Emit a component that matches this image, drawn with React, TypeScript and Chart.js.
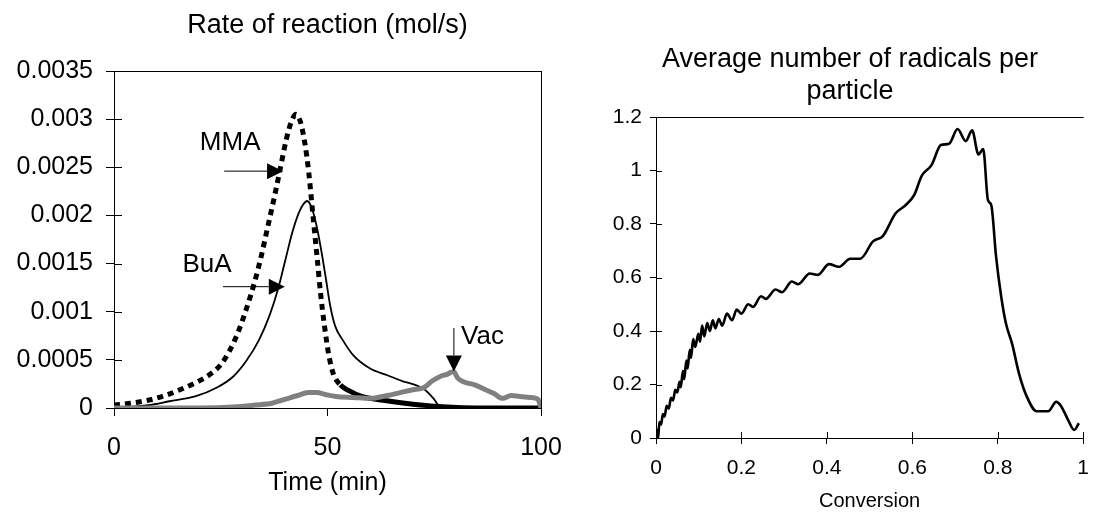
import React, { useEffect, useRef } from 'react';
import { Chart, registerables } from 'chart.js';

Chart.register(...registerables);

const FONT = '"Liberation Sans", Arial, Helvetica, sans-serif';
Chart.defaults.font.family = FONT;
Chart.defaults.color = '#000';

// ---------- Left chart: Rate of reaction (mol/s) vs Time (min) ----------
const mmaTime = [0, 4, 8, 12, 16, 19.5, 22.5, 25, 27, 29, 31, 33, 34.5, 36, 37.5, 39, 40.3, 41.5, 42.6, 43.6, 44.7, 45.6, 46.7, 47.6, 48.4, 49.3, 50.3, 51.4, 53, 55, 58, 63, 70, 78, 85, 100];
const mmaRate = [0.00003, 0.00005, 0.00008, 0.00013, 0.0002, 0.00027, 0.00035, 0.00045, 0.00059, 0.00078, 0.00103, 0.00132, 0.00158, 0.00188, 0.00218, 0.0025, 0.00278, 0.00297, 0.00305, 0.00298, 0.00275, 0.00245, 0.00195, 0.00155, 0.00118, 0.00085, 0.00055, 0.00035, 0.00024, 0.00018, 0.00012, 0.00008, 0.00004, 0.00001, 0, 0];

const buaTime = [0, 8, 13, 19, 24, 28, 31, 34, 36.5, 38.5, 40.2, 41.8, 43.3, 44.4, 45.2, 46.3, 47.5, 48.6, 49.6, 50.6, 51.8, 53.5, 56, 60, 64, 67.5, 70.5, 72.8, 74.8, 76.5, 85, 100];
const buaRate = [0, 0.00003, 0.00007, 0.00012, 0.00021, 0.00033, 0.00049, 0.00071, 0.00097, 0.00125, 0.00155, 0.00183, 0.00203, 0.00212, 0.00215, 0.00208, 0.00188, 0.00162, 0.00135, 0.00107, 0.00085, 0.00071, 0.00055, 0.00041, 0.00034, 0.00028, 0.00024, 0.00019, 0.0001, 0.00001, 0, 0];

const vacTime = [0, 10, 20, 28, 33, 37, 40, 43, 45.5, 47.5, 49.5, 52, 56, 60, 64, 67, 70, 72.5, 74.5, 76.5, 78, 79.5, 80.5, 82, 84.5, 87, 89, 91, 93, 95, 97.5, 99.3, 100];
const vacRate = [0, 0, 0, 0.00001, 0.00003, 0.00005, 0.00009, 0.00013, 0.00016, 0.00016, 0.00014, 0.00012, 0.00011, 0.0001, 0.00013, 0.00016, 0.00019, 0.00021, 0.00028, 0.00033, 0.00035, 0.00038, 0.00031, 0.00027, 0.00024, 0.00019, 0.00015, 0.0001, 0.00013, 0.00012, 0.00011, 0.00009, 0];

const timeTicks = [0, 50, 100];
const rateTicks = [0, 0.0005, 0.001, 0.0015, 0.002, 0.0025, 0.003, 0.0035];

// Arrow labels (in data units)
const noteLabels = ['MMA', 'BuA', 'Vac'];
const noteTextAt = [[27.2, 0.00275], [21.8, 0.00149], [86.3, 0.00074]];
const noteArrowFrom = [[25.8, 0.00246], [25.5, 0.00126], [79.6, 0.00083]];
const noteArrowTo = [[39.6, 0.00246], [40.0, 0.00126], [79.6, 0.00038]];

// ---------- Right chart: Average number of radicals per particle ----------
const conversion = [0, 0.003, 0.005, 0.008, 0.012, 0.016, 0.02, 0.025, 0.03, 0.035, 0.04, 0.045, 0.05, 0.055, 0.058, 0.063, 0.066, 0.071, 0.074, 0.079, 0.082, 0.087, 0.092, 0.099, 0.103, 0.108, 0.113, 0.12, 0.126, 0.133, 0.139, 0.147, 0.155, 0.166, 0.178, 0.189, 0.2, 0.216, 0.227, 0.246, 0.257, 0.28, 0.295, 0.318, 0.333, 0.36, 0.379, 0.405, 0.428, 0.455, 0.478, 0.508, 0.531, 0.561, 0.584, 0.605, 0.622, 0.645, 0.667, 0.686, 0.706, 0.725, 0.74, 0.755, 0.766, 0.777, 0.785, 0.796, 0.808, 0.819, 0.834, 0.85, 0.868, 0.891, 0.918, 0.937, 0.948, 0.964, 0.979, 0.99];
const radicals = [0, 0.03, 0, 0.06, 0.05, 0.09, 0.08, 0.12, 0.11, 0.15, 0.14, 0.18, 0.17, 0.21, 0.19, 0.25, 0.22, 0.29, 0.26, 0.33, 0.3, 0.37, 0.34, 0.39, 0.36, 0.42, 0.38, 0.43, 0.4, 0.44, 0.41, 0.445, 0.42, 0.465, 0.44, 0.48, 0.465, 0.5, 0.49, 0.53, 0.52, 0.555, 0.545, 0.585, 0.575, 0.615, 0.61, 0.65, 0.64, 0.67, 0.67, 0.735, 0.755, 0.84, 0.87, 0.91, 0.98, 1.02, 1.095, 1.1, 1.155, 1.11, 1.15, 1.06, 1.08, 0.89, 0.87, 0.68, 0.53, 0.43, 0.35, 0.24, 0.155, 0.1, 0.1, 0.135, 0.12, 0.07, 0.03, 0.055];

const conversionTicks = [0, 0.2, 0.4, 0.6, 0.8, 1];
const radicalTicks = [0, 0.2, 0.4, 0.6, 0.8, 1, 1.2];

const zip = (xs: number[], ys: number[]) => xs.map((x, i) => ({ x, y: ys[i] }));
const fmt = (d: number) => (v: any) => String(+Number(v).toFixed(d));

// Frame: extra border lines and inner tick halves
const framePlugin = {
  id: 'frame',
  beforeDatasetsDraw(chart: any, _a: any, opts: any) {
    const { ctx, chartArea: a, scales } = chart;
    const px = (v: number) => Math.round(v) + 0.5;
    ctx.save();
    ctx.strokeStyle = '#000';
    ctx.lineWidth = 1;
    ctx.beginPath();
    if (opts.top) { ctx.moveTo(a.left, px(a.top)); ctx.lineTo(a.right + 0.5, px(a.top)); }
    if (opts.right) { ctx.moveTo(px(a.right), a.top); ctx.lineTo(px(a.right), a.bottom); }
    if (opts.innerY) {
      for (const t of scales.y.ticks) {
        const y = px(scales.y.getPixelForValue(t.value));
        ctx.moveTo(a.left, y); ctx.lineTo(a.left + opts.innerY, y);
      }
    }
    if (opts.innerX) {
      for (const t of scales.x.ticks) {
        const x = px(scales.x.getPixelForValue(t.value));
        ctx.moveTo(x, a.bottom); ctx.lineTo(x, a.bottom - opts.innerX);
      }
    }
    ctx.stroke();
    ctx.restore();
  },
};

// Arrow annotations
const notesPlugin = {
  id: 'arrowNotes',
  afterDatasetsDraw(chart: any, _a: any, opts: any) {
    if (!opts || !opts.labels) return;
    const { ctx, scales } = chart;
    const X = (v: number) => scales.x.getPixelForValue(v);
    const Y = (v: number) => scales.y.getPixelForValue(v);
    ctx.save();
    ctx.strokeStyle = '#000';
    ctx.fillStyle = '#000';
    ctx.lineWidth = 1;
    ctx.font = `26px ${FONT}`;
    ctx.textAlign = 'center';
    ctx.textBaseline = 'middle';
    opts.labels.forEach((label: string, i: number) => {
      const x0 = X(opts.from[i][0]), y0 = Y(opts.from[i][1]);
      const x1 = X(opts.to[i][0]), y1 = Y(opts.to[i][1]);
      const ang = Math.atan2(y1 - y0, x1 - x0);
      const head = 16, half = 8;
      const bx = x1 - head * Math.cos(ang), by = y1 - head * Math.sin(ang);
      ctx.beginPath();
      ctx.moveTo(x0, y0);
      ctx.lineTo(bx, by);
      ctx.stroke();
      ctx.beginPath();
      ctx.moveTo(x1, y1);
      ctx.lineTo(bx + half * Math.sin(ang), by - half * Math.cos(ang));
      ctx.lineTo(bx - half * Math.sin(ang), by + half * Math.cos(ang));
      ctx.closePath();
      ctx.fill();
      ctx.fillText(label, X(opts.text[i][0]), Y(opts.text[i][1]));
    });
    ctx.restore();
  },
};

const line = (extra: any) => ({
  pointRadius: 0,
  pointHoverRadius: 0,
  fill: false,
  cubicInterpolationMode: 'monotone',
  borderCapStyle: 'butt',
  ...extra,
});

export default function App() {
  const leftRef = useRef<HTMLCanvasElement | null>(null);
  const rightRef = useRef<HTMLCanvasElement | null>(null);

  useEffect(() => {
    const left = new Chart(leftRef.current as HTMLCanvasElement, {
      type: 'line',
      data: {
        datasets: [
          line({
            label: 'MMA', data: zip(mmaTime, mmaRate), borderColor: '#000', borderWidth: 5,
            borderDash: [6, 5],
            segment: { borderDash: (c: any) => (c.p0.parsed.x >= 52 ? [] : [6, 5]) },
            order: 2,
          }),
          line({ label: 'BuA', data: zip(buaTime, buaRate), borderColor: '#000', borderWidth: 1.8, order: 1 }),
          line({ label: 'Vac', data: zip(vacTime, vacRate), borderColor: '#808080', borderWidth: 5, order: 0 }),
        ],
      },
      options: {
        responsive: false,
        animation: false,
        events: [],
        layout: { padding: { left: 0, right: 47, top: 0, bottom: 0 } },
        plugins: {
          legend: { display: false },
          tooltip: { enabled: false },
          title: {
            display: true, text: 'Rate of reaction (mol/s)', fullSize: false, color: '#000',
            font: { family: FONT, size: 27, weight: 'normal' }, padding: { top: 9, bottom: 29.6 },
          },
          frame: { top: true, right: true, innerY: 8 },
          arrowNotes: { labels: noteLabels, text: noteTextAt, from: noteArrowFrom, to: noteArrowTo },
        } as any,
        scales: {
          x: {
            type: 'linear', min: 0, max: 100,
            afterBuildTicks: (s: any) => { s.ticks = timeTicks.map((v) => ({ value: v })); },
            afterFit: (s: any) => { s.height = 106; },
            grid: { drawOnChartArea: false, tickLength: 8, tickColor: '#000' },
            border: { color: '#000', width: 1 },
            ticks: { color: '#000', font: { family: FONT, size: 25 }, padding: 17, maxRotation: 0, autoSkip: false, callback: fmt(0) },
            title: { display: true, text: 'Time (min)', color: '#000', font: { family: FONT, size: 25 }, padding: { top: 0, bottom: 16 } },
          },
          y: {
            type: 'linear', min: 0, max: 0.0035,
            afterBuildTicks: (s: any) => { s.ticks = rateTicks.map((v) => ({ value: v })); },
            afterFit: (s: any) => { s.width = 114; },
            grid: { drawOnChartArea: false, tickLength: 8, tickColor: '#000' },
            border: { color: '#000', width: 1 },
            ticks: { color: '#000', font: { family: FONT, size: 25 }, padding: 13, autoSkip: false, callback: fmt(4) },
          },
        },
      } as any,
      plugins: [framePlugin, notesPlugin] as any,
    });

    const right = new Chart(rightRef.current as HTMLCanvasElement, {
      type: 'line',
      data: {
        datasets: [
          line({ label: 'radicals', data: zip(conversion, radicals), borderColor: '#000', borderWidth: 2.6 }),
        ],
      },
      options: {
        responsive: false,
        animation: false,
        events: [],
        layout: { padding: { left: 16, right: 5, top: 0, bottom: 0 } },
        plugins: {
          legend: { display: false },
          tooltip: { enabled: false },
          title: {
            display: true, text: ['Average number of radicals per', 'particle'], fullSize: true, color: '#000',
            font: { family: FONT, size: 27, weight: 'normal' }, padding: { top: 43, bottom: 9.2 },
          },
          frame: { top: true, right: false, innerY: 6, innerX: 6 },
        } as any,
        scales: {
          x: {
            type: 'linear', min: 0, max: 1,
            afterBuildTicks: (s: any) => { s.ticks = conversionTicks.map((v) => ({ value: v })); },
            afterFit: (s: any) => { s.height = 76; },
            grid: { drawOnChartArea: false, tickLength: 6, tickColor: '#000' },
            border: { color: '#000', width: 1 },
            ticks: { color: '#000', font: { family: FONT, size: 21 }, padding: 12, maxRotation: 0, autoSkip: false, callback: fmt(1) },
            title: { display: true, text: 'Conversion', color: '#000', font: { family: FONT, size: 20 }, padding: { top: 0, bottom: 1 } },
          },
          y: {
            type: 'linear', min: 0, max: 1.2,
            afterBuildTicks: (s: any) => { s.ticks = radicalTicks.map((v) => ({ value: v })); },
            afterFit: (s: any) => { s.width = 52; },
            grid: { drawOnChartArea: false, tickLength: 6, tickColor: '#000' },
            border: { color: '#000', width: 1 },
            ticks: { color: '#000', font: { family: FONT, size: 21 }, padding: 8, autoSkip: false, callback: fmt(1) },
          },
        },
      } as any,
      plugins: [framePlugin] as any,
    });

    return () => {
      left.destroy();
      right.destroy();
    };
  }, []);

  return (
    <div style={{ position: 'absolute', left: 0, top: 0, width: 1101, height: 514, background: '#fff' }}>
      <canvas ref={leftRef} width={588} height={514} style={{ position: 'absolute', left: 0, top: 0, width: 588, height: 514 }} />
      <canvas ref={rightRef} width={513} height={514} style={{ position: 'absolute', left: 588, top: 0, width: 513, height: 514 }} />
    </div>
  );
}
